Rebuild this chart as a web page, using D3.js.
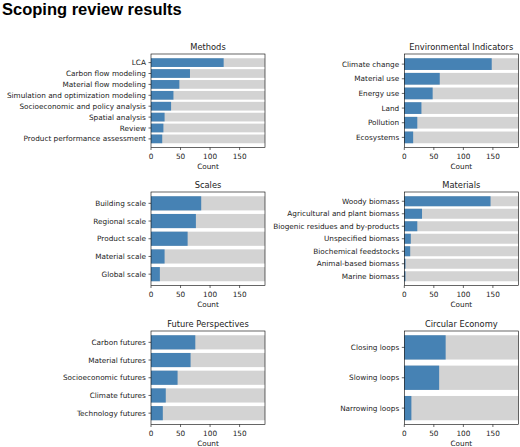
<!DOCTYPE html>
<html><head><meta charset="utf-8">
<script src="https://cdn.jsdelivr.net/npm/d3@7/dist/d3.min.js"></script>
<style>body{margin:0;background:#fff}svg{display:block}text{font-family:"DejaVu Sans",sans-serif;fill:#222}</style>
</head><body>
<svg id="c" width="520" height="447"></svg>
<script>
const totalPapers = 193;
const xTicks = [0, 50, 100, 150];

const methodsCats = ["LCA","Carbon flow modeling","Material flow modeling","Simulation and optimization modeling","Socioeconomic and policy analysis","Spatial analysis","Review","Product performance assessment"];
const methodsVals = [123, 66, 48, 38, 34, 23, 21, 19];

const envCats = ["Climate change","Material use","Energy use","Land","Pollution","Ecosystems"];
const envVals = [148, 60, 48, 29, 22, 15];

const scalesCats = ["Building scale","Regional scale","Product scale","Material scale","Global scale"];
const scalesVals = [85, 76, 62, 23, 15];

const materialsCats = ["Woody biomass","Agricultural and plant biomass","Biogenic residues and by-products","Unspecified biomass","Biochemical feedstocks","Animal-based biomass","Marine biomass"];
const materialsVals = [146, 30, 22, 11, 10, 2, 2];

const futureCats = ["Carbon futures","Material futures","Socioeconomic futures","Climate futures","Technology futures"];
const futureVals = [75, 67, 45, 25, 20];

const circularCats = ["Closing loops","Slowing loops","Narrowing loops"];
const circularVals = [70, 59, 12];

const panels = [
  {title:"Methods", cats:methodsCats, vals:methodsVals, col:0, row:0},
  {title:"Environmental Indicators", cats:envCats, vals:envVals, col:1, row:0},
  {title:"Scales", cats:scalesCats, vals:scalesVals, col:0, row:1},
  {title:"Materials", cats:materialsCats, vals:materialsVals, col:1, row:1},
  {title:"Future Perspectives", cats:futureCats, vals:futureVals, col:0, row:2},
  {title:"Circular Economy", cats:circularCats, vals:circularVals, col:1, row:2}
];

const svg = d3.select("#c");
svg.append("text").attr("x",2).attr("y",15).style("font-family","'Liberation Sans',Arial,sans-serif")
  .style("font-weight","bold").style("font-size","16.5px").style("fill","#000").text("Scoping review results");

const colLeft = [151, 404.3], axW = 114;
const rowTop = [54, 192, 331], axH = 93.5;
const fs = 7.3, tickLen = 2.5, pad = 2.6;

panels.forEach(p => {
  const x0 = colLeft[p.col], y0 = rowTop[p.row];
  const n = p.cats.length;
  const m = 0.05*(n - 1 + 0.8);
  const x = d3.scaleLinear().domain([0,totalPapers]).range([0,axW]);
  const y = d3.scaleLinear().domain([-0.4-m, n-1+0.4+m]).range([0,axH]);
  const g = svg.append("g").attr("transform",`translate(${x0},${y0})`);
  const idx = d3.range(n);
  g.selectAll("rect.bg").data(idx).join("rect").attr("class","bg")
    .attr("x",x(0)).attr("width",x(totalPapers)-x(0))
    .attr("y",i=>y(i-0.4)).attr("height",i=>y(i+0.4)-y(i-0.4)).attr("fill","#d3d3d3");
  g.selectAll("rect.fg").data(idx).join("rect").attr("class","fg")
    .attr("x",x(0)).attr("width",i=>x(p.vals[i])-x(0))
    .attr("y",i=>y(i-0.4)).attr("height",i=>y(i+0.4)-y(i-0.4)).attr("fill","#4682b4");
  g.append("rect").attr("x",0).attr("y",0).attr("width",axW).attr("height",axH)
    .attr("fill","none").attr("stroke","#000").attr("stroke-width",0.6);
  const yt = g.append("g");
  idx.forEach(i=>{
    yt.append("line").attr("x1",-tickLen).attr("x2",0).attr("y1",y(i)).attr("y2",y(i)).attr("stroke","#000").attr("stroke-width",0.6);
    yt.append("text").attr("x",-tickLen-pad).attr("y",y(i)).attr("dy","0.35em").attr("text-anchor","end")
      .style("font-size",fs+"px").text(p.cats[i]);
  });
  const xt = g.append("g").attr("transform",`translate(0,${axH})`);
  xTicks.forEach(v=>{
    xt.append("line").attr("x1",x(v)).attr("x2",x(v)).attr("y1",0).attr("y2",tickLen).attr("stroke","#000").attr("stroke-width",0.6);
    xt.append("text").attr("x",x(v)).attr("y",tickLen+pad+0.8).attr("dy","0.76em").attr("text-anchor","middle")
      .style("font-size",fs+"px").text(v);
  });
  g.append("text").attr("x",axW/2).attr("y",axH+tickLen+pad+fs*1.0+fs*0.3+1.8).attr("dy","0.76em").attr("text-anchor","middle")
    .style("font-size",fs+"px").text("Count");
  g.append("text").attr("x",axW/2).attr("y",-4.4).attr("text-anchor","middle")
    .style("font-size","8.3px").text(p.title);
});
</script>
</body></html>
